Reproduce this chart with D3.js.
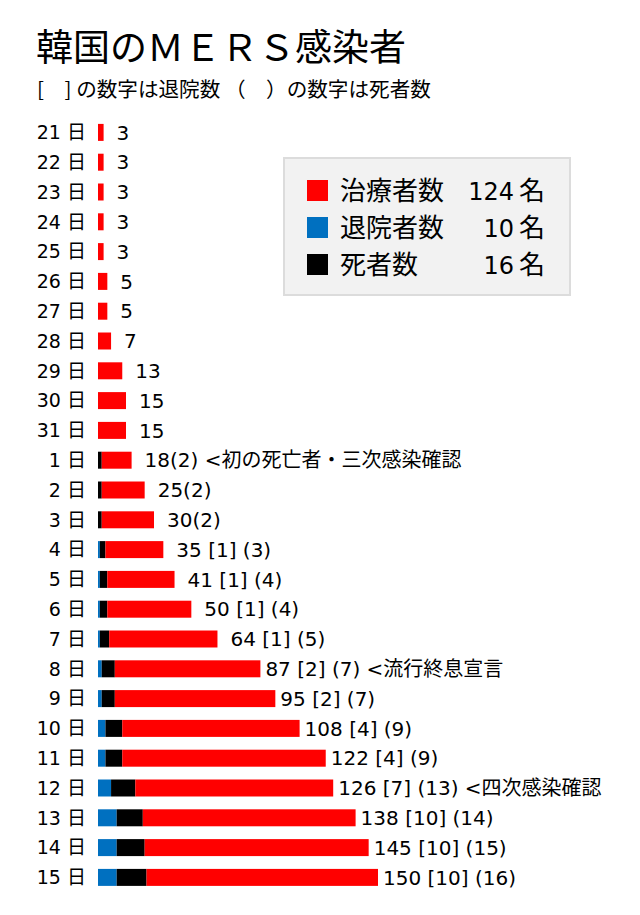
<!DOCTYPE html>
<html>
<head>
<meta charset="utf-8">
<script src="https://cdn.jsdelivr.net/npm/d3@7"></script>
<style>
  body { margin: 0; background: #fff; }
  text { font-family: "DejaVu Sans", "Noto Sans CJK JP", sans-serif; fill: #000; }
  .cjk { font-family: "Noto Sans CJK JP", sans-serif; }
</style>
</head>
<body>
<div id="chart"></div>
<script>
// days (May 21 - June 15)
var days = ["21","22","23","24","25","26","27","28","29","30","31",
            "1","2","3","4","5","6","7","8","9","10","11","12","13","14","15"];
var totals =     [3,3,3,3,3,5,5,7,13,15,15,18,25,30,35,41,50,64,87,95,108,122,126,138,145,150];
var discharged = [0,0,0,0,0,0,0,0,0,0,0,0,0,0,1,1,1,1,2,2,4,4,7,10,10,10];
var dead =       [0,0,0,0,0,0,0,0,0,0,0,2,2,2,3,4,4,5,7,7,9,9,13,14,15,16];
var notes = {"1": "<初の死亡者・三次感染確認", "8": "<流行終息宣言", "12": "<四次感染確認"};
var legendNames = ["治療者数", "退院者数", "死者数"];
var colors = ["#ff0000", "#0070c0", "#000000"];

var width = 640, height = 915;

var svg = d3.select("#chart")
    .append("svg")
    .attr("width", width)
    .attr("height", height);

var rows = days.map(function(d, i) {
  return { day: d, total: totals[i], out: discharged[i], dead: dead[i],
           treat: totals[i] - discharged[i] - dead[i] };
});

var x = d3.scaleLinear().domain([0, 150]).range([98, 378]);
var y = d3.scaleBand().domain(days).range([117.5, 892.3]).paddingInner(0.43).paddingOuter(0.215);

// title
svg.append("text")
    .attr("class", "cjk")
    .attr("x", 36).attr("y", 61)
    .style("font-size", "37px")
    .text("韓国のＭＥＲＳ感染者");
svg.append("text")
    .attr("class", "cjk")
    .attr("x", 37).attr("y", 97)
    .style("font-size", "20.6px")
    .text("[　] の数字は退院数 （　）の数字は死者数");

// day labels
svg.selectAll(".day")
    .data(rows)
    .enter().append("text")
    .attr("class", "day")
    .attr("x", 86)
    .attr("y", function(d) { return y(d.day) + y.bandwidth() / 2; })
    .attr("dy", "0.36em")
    .attr("text-anchor", "end")
    .style("font-size", "19px")
    .text(function(d) { return d.day + " 日"; });

// stacked bars: discharged, dead, treated
var stack = d3.stack().keys(["out", "dead", "treat"]);
var series = stack(rows);
var segColor = { out: colors[1], dead: colors[2], treat: colors[0] };

svg.selectAll(".series")
    .data(series)
    .enter().append("g")
    .attr("fill", function(s) { return segColor[s.key]; })
  .selectAll("rect")
    .data(function(s) { return s; })
    .enter().append("rect")
    .attr("x", function(d) { return x(d[0]); })
    .attr("width", function(d) { return x(d[1]) - x(d[0]); })
    .attr("y", function(d) { return y(d.data.day); })
    .attr("height", y.bandwidth());

function label(d) {
  var s = String(d.total);
  if (d.out > 0) s += " [" + d.out + "] (" + d.dead + ")";
  else if (d.dead > 0) s += "(" + d.dead + ")";
  if (notes[d.day]) s += " " + notes[d.day];
  return s;
}

svg.selectAll(".val")
    .data(rows)
    .enter().append("text")
    .attr("class", "val")
    .attr("x", function(d) { return x(d.total) + (d.total < 87 ? 13 : 5); })
    .attr("y", function(d) { return y(d.day) + y.bandwidth() / 2; })
    .attr("dy", "0.36em")
    .style("font-size", "20px")
    .text(label);

// legend
var last = rows[rows.length - 1];
var legendVals = [last.treat, last.out, last.dead];

var lg = svg.append("g");
lg.append("rect")
    .attr("x", 284).attr("y", 158)
    .attr("width", 286).attr("height", 137)
    .attr("fill", "#f2f2f2")
    .attr("stroke", "#dcdcdc")
    .attr("stroke-width", 2);

var items = lg.selectAll(".item")
    .data(legendNames)
    .enter().append("g")
    .attr("transform", function(d, i) { return "translate(0," + (191 + i * 37) + ")"; });

items.append("rect")
    .attr("x", 307).attr("y", -11)
    .attr("width", 21).attr("height", 21)
    .attr("fill", function(d, i) { return colors[i]; });

items.append("text")
    .attr("class", "cjk")
    .attr("x", 340).attr("dy", "0.36em")
    .style("font-size", "26px")
    .text(function(d) { return d; });

items.append("text")
    .attr("x", 514).attr("dy", "0.36em")
    .attr("text-anchor", "end")
    .style("font-size", "24px")
    .text(function(d, i) { return legendVals[i]; });

items.append("text")
    .attr("class", "cjk")
    .attr("x", 519).attr("dy", "0.36em")
    .style("font-size", "26px")
    .text("名");
</script>
</body>
</html>
